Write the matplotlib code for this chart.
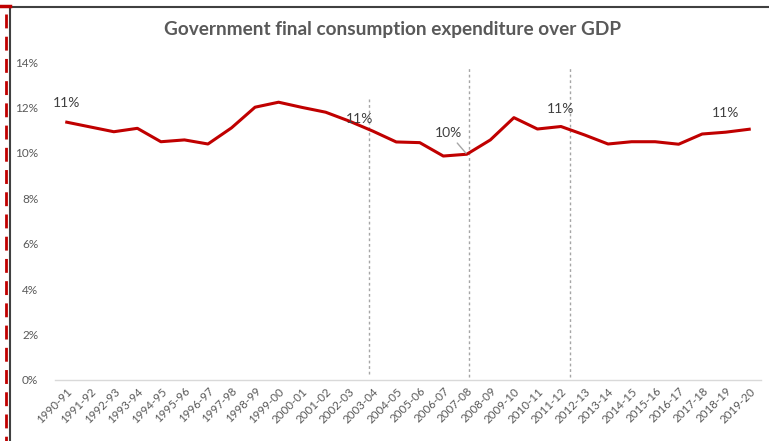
import matplotlib
matplotlib.use("Agg")
import matplotlib.pyplot as plt
from matplotlib.lines import Line2D

# Fiscal years
years = ["1990-91", "1991-92", "1992-93", "1993-94", "1994-95", "1995-96",
         "1996-97", "1997-98", "1998-99", "1999-00", "2000-01", "2001-02",
         "2002-03", "2003-04", "2004-05", "2005-06", "2006-07", "2007-08",
         "2008-09", "2009-10", "2010-11", "2011-12", "2012-13", "2013-14",
         "2014-15", "2015-16", "2016-17", "2017-18", "2018-19", "2019-20"]

# Government final consumption expenditure, % of GDP
gfce_pct = [11.35, 11.14, 10.93, 11.08, 10.49, 10.57, 10.39, 11.10, 12.01, 12.23,
            12.00, 11.79, 11.40, 10.96, 10.48, 10.45, 9.86, 9.94, 10.57, 11.55,
            11.05, 11.16, 10.79, 10.39, 10.49, 10.49, 10.38, 10.83, 10.91, 11.04]

# Points carrying a value label, with label offset in pixels
label_idx = [0, 13, 17, 21, 28]
label_off = [(0, 19), (-13, 12), (-18, 21), (0, 18), (0, 19)]

# Dotted reference markers (x position, bottom, top) in data units
ref_lines = [(12.84, 0.26, 12.38), (17.09, 0.13, 13.78), (21.38, 0.13, 13.78)]

yticks = [0, 2, 4, 6, 8, 10, 12, 14]

W, H = 769, 441
fig = plt.figure(figsize=(W / 100, H / 100), dpi=100)
ax = fig.add_axes([55 / W, 1 - 380 / H, 706 / W, 318 / H])

FONT = ["Lato", "DejaVu Sans"]
GREY = "#595959"

x = list(range(len(years)))
ax.plot(x, gfce_pct, color="#C00000", lw=2.2, solid_joinstyle="round", zorder=3)

for xv, y0, y1 in ref_lines:
    ax.plot([xv, xv], [y0, y1], color="#a6a6a6", lw=1.0, ls=(0, (2, 2)), zorder=2)

for i, (dx, dy) in zip(label_idx, label_off):
    txt = f"{round(gfce_pct[i]):.0f}%"
    if i == 17:
        ax.annotate(txt, xy=(x[i], gfce_pct[i]), xytext=(dx, dy),
                    textcoords="offset pixels", ha="center", va="center",
                    fontsize=10, color="#404040", family=FONT,
                    arrowprops=dict(arrowstyle="-", color="#a6a6a6", lw=1.0,
                                    shrinkA=1, shrinkB=1))
    else:
        ax.annotate(txt, xy=(x[i], gfce_pct[i]), xytext=(dx, dy),
                    textcoords="offset pixels", ha="center", va="center",
                    fontsize=10, color="#404040", family=FONT)

ax.set_xlim(-0.5, len(years) - 0.5)
ax.set_ylim(0, 14)
ax.set_xticks(x)
ax.set_xticklabels(years, rotation=45, ha="right", rotation_mode="anchor",
                   fontsize=8.3, color=GREY, family=FONT)
ax.set_yticks(yticks)
ax.set_yticklabels([f"{v}%" for v in yticks], fontsize=8.5, color=GREY, family=FONT)
ax.tick_params(axis="both", length=0)
ax.tick_params(axis="y", pad=12)
ax.tick_params(axis="x", pad=4)
for s in ["top", "right", "left"]:
    ax.spines[s].set_visible(False)
ax.spines["bottom"].set_color("#d9d9d9")
ax.spines["bottom"].set_linewidth(1.0)

fig.text(393 / W, 1 - 30 / H, "Government final consumption expenditure over GDP",
         ha="center", va="center", fontsize=13.7, fontweight="bold",
         color=GREY, family=FONT)

# Sheet border lines
def px_line(xs, ys, **kw):
    fig.add_artist(Line2D([v / W for v in xs], [1 - v / H for v in ys],
                          transform=fig.transFigure, **kw))

px_line([10, W], [7, 7], color="#404040", lw=1.5)
px_line([10, 10], [7, H], color="#404040", lw=1.5)
px_line([0, 10], [6, 6], color="#C00000", lw=2.5)
px_line([6, 6], [14, H], color="#C00000", lw=2.0, ls=(0, (5, 3)))

fig.savefig("out.png", dpi=100)
